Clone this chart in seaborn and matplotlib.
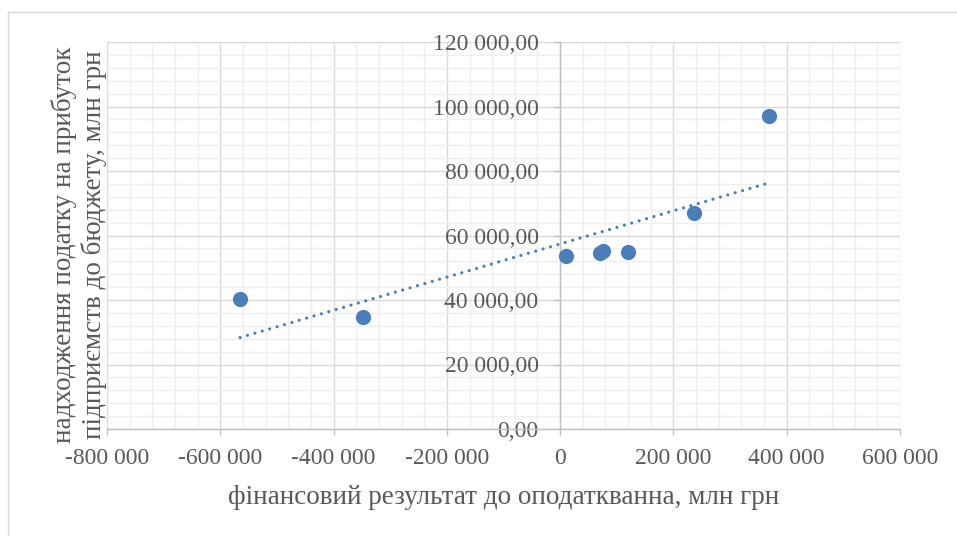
import numpy as np
import pandas as pd
import matplotlib
matplotlib.use("Agg")
import matplotlib.pyplot as plt
from matplotlib.ticker import FuncFormatter, MultipleLocator
from matplotlib.patches import Rectangle
import seaborn as sns

# Financial result before tax vs. corporate income tax revenue, mln UAH
fin_result = [-565000, -348000, 11000, 70500, 76500, 119000, 237000, 369000]
tax_revenue = [40200, 34800, 53700, 54500, 55300, 54900, 67100, 97000]

x_label = "фінансовий результат до оподаткванна, млн грн"
y_label = "надходження податку на прибуток\nпідприємств до бюджету, млн грн"

df = pd.DataFrame({"x": fin_result, "y": tax_revenue})

sns.set_theme(style="white")
plt.rcParams["font.family"] = ["Liberation Serif", "DejaVu Serif"]
text_color = "#595959"
blue = "#4a7ebb"

fig = plt.figure(figsize=(9.57, 5.36), dpi=100)
ax = fig.add_axes([107 / 957, 1 - 429 / 536, 793 / 957, 387 / 536])

# outer chart frame
fig.patches.append(Rectangle((8 / 957, -0.05), 1.1, 1 - 12 / 536 + 0.05,
                             transform=fig.transFigure, fill=False,
                             edgecolor="#d9d9d9", linewidth=1.0, zorder=0))

sns.regplot(data=df, x="x", y="y", scatter=False, ci=None, ax=ax,
            line_kws=dict(color=blue, linewidth=2.3,
                          linestyle=(0, (0.01, 2.4)),
                          dash_capstyle="round", zorder=3))
sns.scatterplot(data=df, x="x", y="y", ax=ax, s=120, color=blue,
                edgecolor=blue, linewidth=0, zorder=4)

ax.set_xlim(-800000, 600000)
ax.set_ylim(0, 120000)
ax.xaxis.set_major_locator(MultipleLocator(200000))
ax.xaxis.set_minor_locator(MultipleLocator(40000))
ax.yaxis.set_major_locator(MultipleLocator(20000))
ax.yaxis.set_minor_locator(MultipleLocator(4000))

ax.xaxis.set_major_formatter(FuncFormatter(lambda v, p: f"{int(round(v)):,}".replace(",", " ")))
ax.yaxis.set_major_formatter(FuncFormatter(lambda v, p: f"{v:,.2f}".replace(",", " ").replace(".", ",")))

ax.grid(which="major", color="#d9d9d9", linewidth=1.0)
ax.grid(which="minor", color="#eeeeee", linewidth=1.0)
ax.set_axisbelow(True)

for s in ["top", "right"]:
    ax.spines[s].set_visible(False)
ax.spines["left"].set_position(("data", 0))
for s in ["left", "bottom"]:
    ax.spines[s].set_color("#bfbfbf")
    ax.spines[s].set_linewidth(1.0)
    ax.spines[s].set_zorder(2)

ax.tick_params(axis="both", which="major", labelsize=17, labelcolor=text_color,
               color="#bfbfbf", length=4.5, width=1.0)
ax.tick_params(axis="y", which="major", direction="out", left=True, pad=11)
ax.tick_params(axis="x", which="major", direction="out", bottom=True, pad=9)
ax.tick_params(which="minor", length=0)

ax.set_xlabel(x_label, fontsize=19.5, color=text_color, va="top")
ax.set_ylabel(y_label, fontsize=19.5, color=text_color, linespacing=1.2)
ax.xaxis.set_label_coords(0.5, -0.145)
ax.yaxis.set_label_coords(0.0, 0.475)

fig.savefig("out.png", dpi=100)
